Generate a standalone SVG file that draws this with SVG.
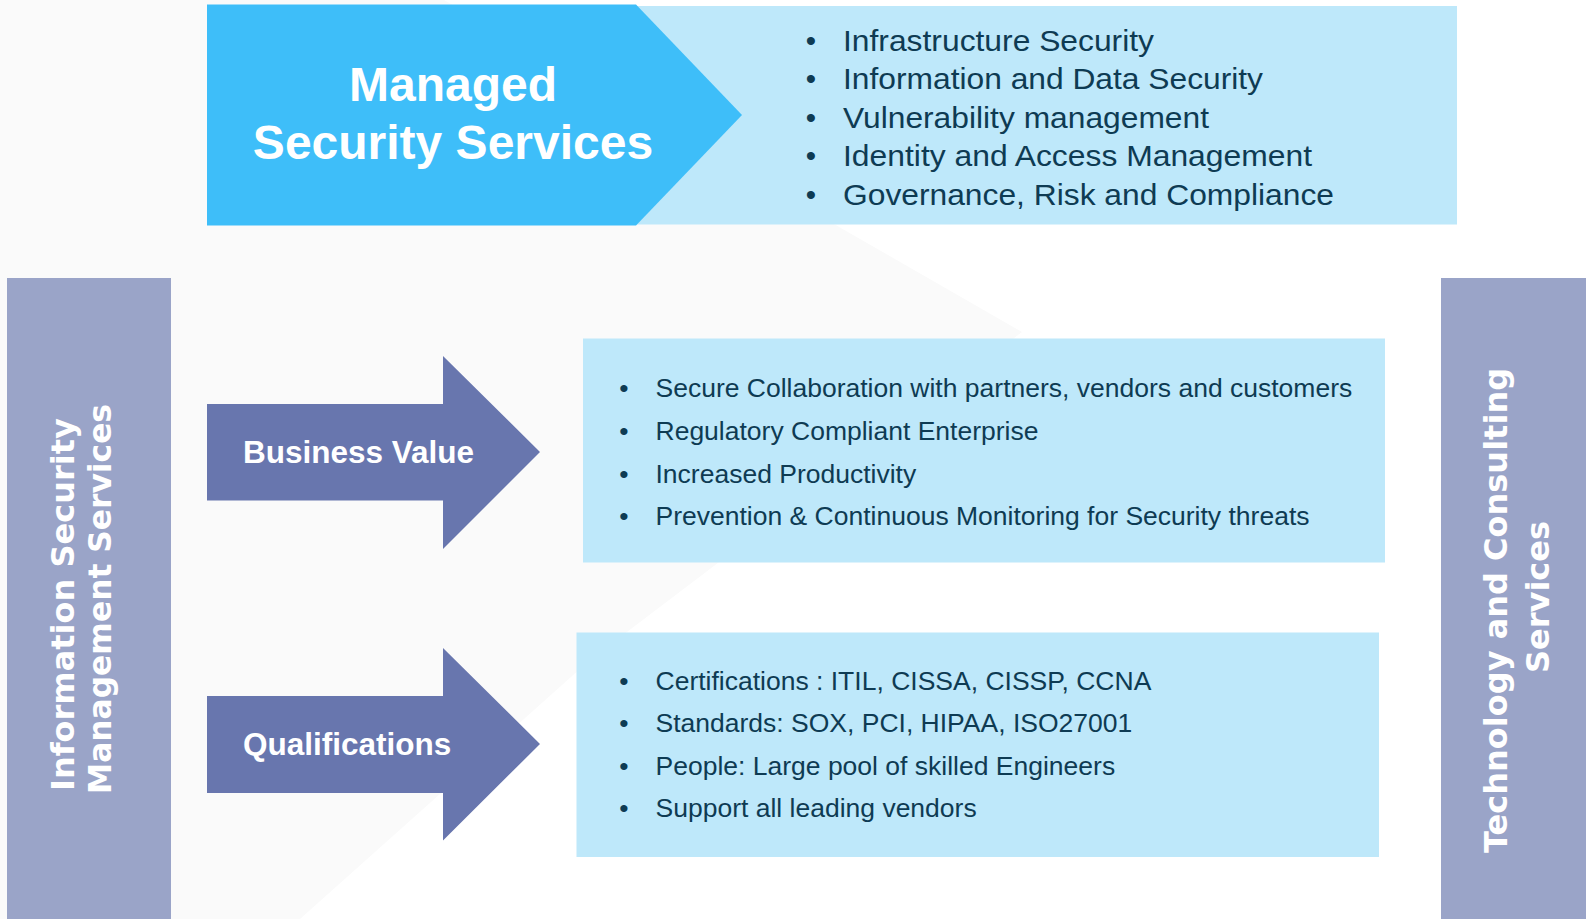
<svg xmlns="http://www.w3.org/2000/svg" width="1586" height="919" viewBox="0 0 1586 919">
<style>
.lav{fill:#9AA4C8}
.lt{fill:#BEE8FA}
.arr{fill:#6876AE}
.li{font-family:"Liberation Sans",Arial,sans-serif;fill:#0E3B53}
.top{font-size:29.5px}
.mid{font-size:26.5px}
.side{font-family:"DejaVu Sans",Verdana,sans-serif;font-weight:bold;font-size:32px;fill:#FFFFFF}
.lbl{font-family:"Liberation Sans",Arial,sans-serif;font-weight:bold;font-size:31.5px;fill:#FFFFFF}
.ttl{font-family:"Liberation Sans",Arial,sans-serif;font-weight:bold;font-size:48px;fill:#FFFFFF}
</style>
<rect x="0" y="0" width="1586" height="919" fill="#FFFFFF"/>
<polygon points="0,0 444,0 1022,332 590,660 300,919 0,919" fill="#FAFAFA"/>

<g id="managed-security-services">
  <rect class="lt" x="630" y="6" width="827" height="218.5"/>
  <polygon points="207,4.5 636,4.5 742,115 636,225.5 207,225.5" fill="#3EBEF9"/>
  <text class="ttl" x="453" y="101" text-anchor="middle">Managed</text>
  <text class="ttl" x="453" y="159" text-anchor="middle">Security Services</text>
  <g class="li top">
    <text x="811" y="50.5" text-anchor="middle">•</text>
    <text x="811" y="89" text-anchor="middle">•</text>
    <text x="811" y="127.5" text-anchor="middle">•</text>
    <text x="811" y="166" text-anchor="middle">•</text>
    <text x="811" y="204.5" text-anchor="middle">•</text>
    <text x="843" y="50.5" textLength="311" lengthAdjust="spacingAndGlyphs">Infrastructure Security</text>
    <text x="843" y="89" textLength="420" lengthAdjust="spacingAndGlyphs">Information and Data Security</text>
    <text x="843" y="127.5" textLength="366" lengthAdjust="spacingAndGlyphs">Vulnerability management</text>
    <text x="843" y="166" textLength="469" lengthAdjust="spacingAndGlyphs">Identity and Access Management</text>
    <text x="843" y="204.5" textLength="491" lengthAdjust="spacingAndGlyphs">Governance, Risk and Compliance</text>
  </g>
</g>

<g id="information-security-management-services">
  <rect class="lav" x="7" y="278" width="164" height="641"/>
  <text class="side" transform="translate(74,791) rotate(-90)">Information Security</text>
  <text class="side" transform="translate(111,794) rotate(-90)" textLength="390" lengthAdjust="spacingAndGlyphs">Management Services</text>
</g>

<g id="technology-consulting-services">
  <rect class="lav" x="1441" y="278" width="145" height="641"/>
  <text class="side" transform="translate(1507,853) rotate(-90)">Technology and Consulting</text>
  <text class="side" transform="translate(1549,673) rotate(-90)">Services</text>
</g>

<g id="business-value">
  <polygon class="arr" points="207,404 443,404 443,356 540,452 443,549 443,500.5 207,500.5"/>
  <text class="lbl" x="243" y="462.5">Business Value</text>
</g>

<g id="business-value-list">
  <rect class="lt" x="583" y="338.5" width="802" height="224"/>
  <g class="li mid">
    <text x="624" y="397.3" text-anchor="middle">•</text>
    <text x="624" y="440" text-anchor="middle">•</text>
    <text x="624" y="482.6" text-anchor="middle">•</text>
    <text x="624" y="525.2" text-anchor="middle">•</text>
    <text x="655.5" y="397.3">Secure Collaboration with partners, vendors and customers</text>
    <text x="655.5" y="440">Regulatory Compliant Enterprise</text>
    <text x="655.5" y="482.6">Increased Productivity</text>
    <text x="655.5" y="525.2">Prevention &amp; Continuous Monitoring for Security threats</text>
  </g>
</g>

<g id="qualifications">
  <polygon class="arr" points="207,696 443,696 443,648 540,744 443,840.5 443,793 207,793"/>
  <text class="lbl" x="243" y="755">Qualifications</text>
</g>

<g id="qualifications-list">
  <rect class="lt" x="576.5" y="632.5" width="802.5" height="224.5"/>
  <g class="li mid">
    <text x="624" y="689.5" text-anchor="middle">•</text>
    <text x="624" y="732" text-anchor="middle">•</text>
    <text x="624" y="774.5" text-anchor="middle">•</text>
    <text x="624" y="817" text-anchor="middle">•</text>
    <text x="655.5" y="689.5">Certifications : ITIL, CISSA, CISSP, CCNA</text>
    <text x="655.5" y="732">Standards: SOX, PCI, HIPAA, ISO27001</text>
    <text x="655.5" y="774.5">People: Large pool of skilled Engineers</text>
    <text x="655.5" y="817">Support all leading vendors</text>
  </g>
</g>

<g id="connectors"></g>
</svg>
